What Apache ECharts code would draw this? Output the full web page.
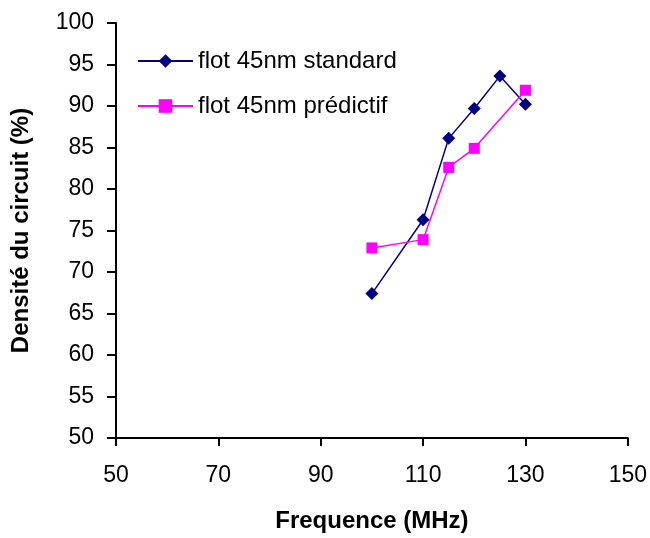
<!DOCTYPE html>
<html><head><meta charset="utf-8">
<script src="https://cdn.jsdelivr.net/npm/echarts@6/dist/echarts.min.js"></script>
<style>html,body{margin:0;padding:0;background:#fff}#c{width:650px;height:538px}</style>
</head><body><div id="c"></div>
<script>
const xTicks = [50, 70, 90, 110, 130, 150];
const yTicks = [50, 55, 60, 65, 70, 75, 80, 85, 90, 95, 100];
const stdFreq = [100, 110, 115, 120, 125, 130];
const stdDensity = [67.4, 76.3, 86.1, 89.7, 93.6, 90.2];
const predFreq = [100, 110, 115, 120, 130];
const predDensity = [72.9, 73.9, 82.6, 84.9, 91.9];
const seriesNames = ['flot 45nm standard', 'flot 45nm prédictif'];

const font = 'Liberation Sans, Arial, sans-serif';
const chart = echarts.init(document.getElementById('c'));
chart.setOption({
  animation: false,
  textStyle: {fontFamily: font, color: '#000'},
  grid: {left: 116, right: 22, top: 23, bottom: 98},
  legend: {
    left: 132, top: 44, orient: 'vertical', itemGap: 21,
    itemWidth: 55, itemHeight: 17,
    textStyle: {fontSize: 24, color: '#000', fontFamily: font},
    data: seriesNames
  },
  xAxis: {
    type: 'value', min: 50, max: 150, interval: 20,
    name: 'Frequence (MHz)', nameLocation: 'middle', nameGap: 71,
    nameTextStyle: {fontSize: 24, fontWeight: 'bold', color: '#000', fontFamily: font},
    axisLine: {show: true, onZero: false, lineStyle: {color: '#000', width: 2}},
    axisTick: {show: true, length: 8, lineStyle: {color: '#000', width: 2}},
    axisLabel: {fontSize: 23, color: '#000', margin: 26, fontFamily: font,
      formatter: v => xTicks.includes(v) ? String(v) : ''},
    splitLine: {show: false}
  },
  yAxis: {
    type: 'value', min: 50, max: 100, interval: 5,
    name: 'Densité du circuit (%)', nameLocation: 'middle', nameGap: 83,
    nameTextStyle: {fontSize: 24, fontWeight: 'bold', color: '#000', fontFamily: font},
    axisLine: {show: true, onZero: false, lineStyle: {color: '#000', width: 2}},
    axisTick: {show: true, length: 9, lineStyle: {color: '#000', width: 2}},
    axisLabel: {fontSize: 23, color: '#000', margin: 22, fontFamily: font,
      formatter: v => yTicks.includes(v) ? String(v) : ''},
    splitLine: {show: false}
  },
  series: [
    {
      name: seriesNames[0], type: 'line',
      data: stdFreq.map((x, i) => [x, stdDensity[i]]),
      symbol: 'diamond', symbolSize: 13,
      lineStyle: {color: '#000080', width: 1.5},
      itemStyle: {color: '#000080'}
    },
    {
      name: seriesNames[1], type: 'line',
      data: predFreq.map((x, i) => [x, predDensity[i]]),
      symbol: 'rect', symbolSize: 11,
      lineStyle: {color: '#FF00FF', width: 1.5},
      itemStyle: {color: '#FF00FF'}
    }
  ]
});
</script></body></html>
